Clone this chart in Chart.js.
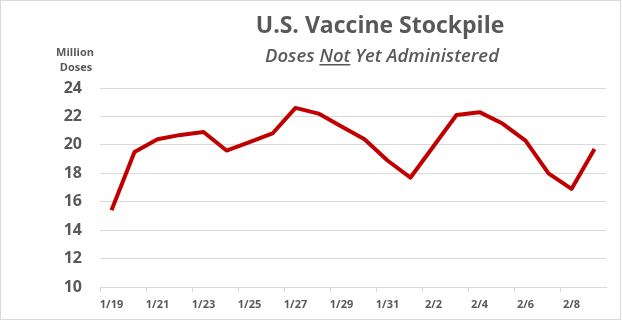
<!DOCTYPE html>
<html>
<head>
<meta charset="utf-8">
<script src="https://cdn.jsdelivr.net/npm/chart.js@4.4.0/dist/chart.umd.min.js"></script>
<style>
  html, body { margin: 0; padding: 0; background: #fff; }
  #wrap { width: 622px; height: 321px; }
</style>
</head>
<body>
<div id="wrap"><canvas id="chart" width="622" height="321"></canvas></div>
<script>
// days 1/19 .. 2/9
var days = ['1/19', '1/20', '1/21', '1/22', '1/23', '1/24', '1/25', '1/26', '1/27', '1/28', '1/29',
            '1/30', '1/31', '2/1', '2/2', '2/3', '2/4', '2/5', '2/6', '2/7', '2/8', '2/9'];
// million doses not yet administered
var stockpile = [15.4, 19.5, 20.4, 20.7, 20.9, 19.6, 20.2, 20.8, 22.6, 22.2, 21.3,
                 20.4, 18.9, 17.7, 19.9, 22.1, 22.3, 21.5, 20.3, 18.0, 16.9, 19.7];
var yTicks = [10, 12, 14, 16, 18, 20, 22, 24];

var textColor = '#595959';
var gridColor = '#d9d9d9';

var titles = {
    id: 'titles',
    beforeDraw: function (chart) {
        var c = chart.ctx;
        c.save();
        c.strokeStyle = gridColor;
        c.lineWidth = 1;
        c.strokeRect(0.5, 0.5, 620, 319);
        c.restore();
    },
    afterDraw: function (chart) {
        var c = chart.ctx;
        c.save();
        c.fillStyle = textColor;
        c.textAlign = 'center';
        c.textBaseline = 'alphabetic';

        c.font = 'bold 23px "Open Sans"';
        c.fillText('U.S. Vaccine Stockpile', 380, 33);

        c.font = 'italic 600 18.5px "Open Sans"';
        var sub = 'Doses Not Yet Administered';
        c.fillText(sub, 382, 62);
        // underline "Not"
        var full = c.measureText(sub).width;
        var start = 382 - full / 2 + c.measureText('Doses ').width;
        var w = c.measureText('Not').width;
        c.fillRect(start, 64, w, 1.5);

        c.font = 'bold 11px "Open Sans"';
        c.fillText('Million', 75, 56);
        c.fillText('Doses', 76, 71);
        c.restore();
    }
};

var ctx = document.getElementById('chart').getContext('2d');
var chart = new Chart(ctx, {
    type: 'line',
    data: {
        labels: days,
        datasets: [{
            data: stockpile,
            borderColor: '#c00000',
            borderWidth: 4,
            borderJoinStyle: 'round',
            pointRadius: 0,
            tension: 0,
            fill: false
        }]
    },
    options: {
        responsive: false,
        animation: false,
        layout: { padding: { left: 0, right: 16, top: 88, bottom: 0 } },
        plugins: {
            legend: { display: false },
            title: { display: false },
            tooltip: { enabled: false }
        },
        scales: {
            x: {
                offset: true,
                grid: {
                    offset: true,
                    drawOnChartArea: false,
                    drawTicks: true,
                    tickLength: 5,
                    color: function (c) { return c.index % 2 === 0 ? gridColor : 'rgba(0,0,0,0)'; }
                },
                border: { display: true, color: gridColor, width: 1 },
                ticks: {
                    autoSkip: false,
                    maxRotation: 0,
                    padding: 6,
                    color: textColor,
                    font: { family: 'Open Sans', size: 11, weight: 'bold' },
                    callback: function (v, i) { return i % 2 === 0 ? days[i] : ''; }
                },
                afterFit: function (s) { s.height = 321 - 287; }
            },
            y: {
                min: yTicks[0],
                max: yTicks[yTicks.length - 1],
                afterBuildTicks: function (s) { s.ticks = yTicks.map(function (v) { return { value: v }; }); },
                grid: { color: gridColor, drawTicks: false },
                border: { display: false },
                ticks: {
                    padding: 18,
                    color: textColor,
                    font: { family: 'Open Sans', size: 16, weight: 'bold' }
                },
                afterFit: function (s) { s.width = 100; }
            }
        }
    },
    plugins: [titles]
});
</script>
</body>
</html>
